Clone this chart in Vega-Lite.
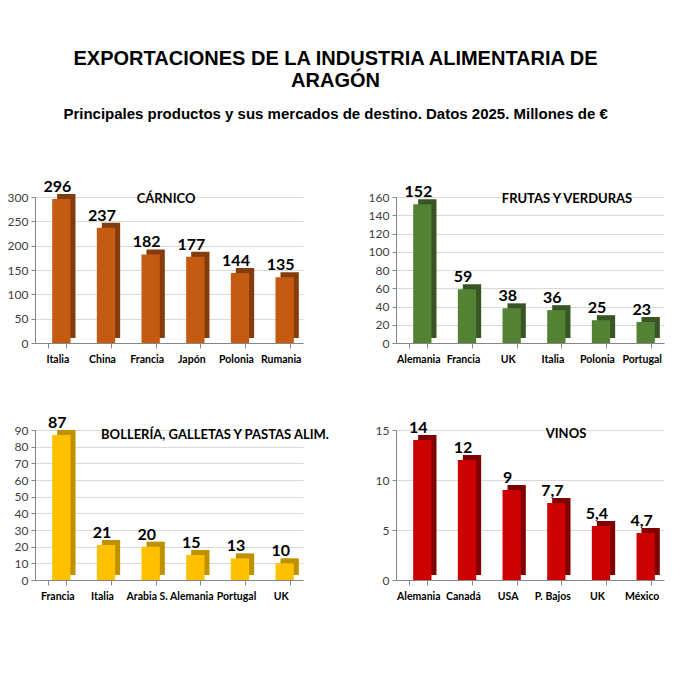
{
  "$schema": "https://vega.github.io/schema/vega-lite/v6.json",
  "background": "white",
  "padding": {"left": 7, "top": 48, "right": 5, "bottom": 5},
  "config": {
    "view": {"stroke": null},
    "locale": {"number": {"decimal": ",", "thousands": ".", "grouping": [3], "currency": ["", " €"]}},
    "axisY": {
      "grid": true, "gridColor": "#D9D9D9", "domainColor": "#868686", "tickColor": "#868686",
      "tickSize": 4, "labelFont": "Lato", "labelFontSize": 12, "labelColor": "#404040",
      "labelPadding": 3, "title": null
    },
    "axisX": {
      "grid": false, "domainColor": "#868686", "tickColor": "#868686", "tickSize": 5,
      "tickBand": "extent", "labelAngle": 0, "labelFont": "Lato", "labelFontSize": 10.5,
      "labelFontWeight": "bold", "labelColor": "#000000", "labelPadding": 6,
      "labelOverlap": false, "labelLimit": 0, "title": null
    },
    "scale": {"bandPaddingInner": 0.59, "bandPaddingOuter": 0.295},
    "text": {"font": "Lato", "fontSize": 16, "fontWeight": "bold", "color": "#000000", "dy": -12, "xOffset": 5}
  },
  "title": {
    "text": ["EXPORTACIONES DE LA INDUSTRIA  ALIMENTARIA DE", "ARAGÓN"],
    "subtitle": "Principales productos y sus mercados de destino. Datos 2025. Millones de €",
    "anchor": "middle",
    "font": "Liberation Sans", "fontSize": 20, "fontWeight": "bold", "color": "#000000", "lineHeight": 22,
    "subtitleFont": "Liberation Sans", "subtitleFontSize": 15, "subtitleFontWeight": "bold",
    "subtitleColor": "#000000", "subtitlePadding": 16,
    "offset": 57
  },
  "datasets": {
    "carnico": [
      {"pais": "Italia", "valor": 296},
      {"pais": "China", "valor": 237},
      {"pais": "Francia", "valor": 182},
      {"pais": "Japón", "valor": 177},
      {"pais": "Polonia", "valor": 144},
      {"pais": "Rumania", "valor": 135}
    ],
    "frutas": [
      {"pais": "Alemania", "valor": 152},
      {"pais": "Francia", "valor": 59},
      {"pais": "UK", "valor": 38},
      {"pais": "Italia", "valor": 36},
      {"pais": "Polonia", "valor": 25},
      {"pais": "Portugal", "valor": 23}
    ],
    "bolleria": [
      {"pais": "Francia", "valor": 87},
      {"pais": "Italia", "valor": 21},
      {"pais": "Arabia S.", "valor": 20},
      {"pais": "Alemania", "valor": 15},
      {"pais": "Portugal", "valor": 13},
      {"pais": "UK", "valor": 10}
    ],
    "vinos": [
      {"pais": "Alemania", "valor": 14},
      {"pais": "Canadá", "valor": 12},
      {"pais": "USA", "valor": 9},
      {"pais": "P. Bajos", "valor": 7.7},
      {"pais": "UK", "valor": 5.4},
      {"pais": "México", "valor": 4.7}
    ]
  },
  "spacing": 50,
  "vconcat": [
    {
      "bounds": "flush",
      "spacing": 93,
      "hconcat": [
        {
          "width": 268, "height": 146,
          "data": {"name": "carnico"},
          "title": {"text": "CÁRNICO", "font": "Lato", "fontSize": 13, "fontWeight": "bold", "color": "#000000", "baseline": "middle", "offset": -33, "dx": -3},
          "encoding": {
            "x": {"field": "pais", "type": "nominal", "sort": null},
            "y": {"field": "valor", "type": "quantitative", "scale": {"domain": [0, 300]}, "axis": {"values": [0, 50, 100, 150, 200, 250, 300]}}
          },
          "layer": [
            {"mark": {"type": "bar", "color": "#843C0C", "xOffset": 9, "yOffset": -5}},
            {"mark": {"type": "bar", "color": "#C55A11", "xOffset": 4}},
            {"mark": {"type": "text"}, "encoding": {"text": {"field": "valor", "type": "quantitative", "format": ".1~f"}}}
          ]
        },
        {
          "width": 268, "height": 146,
          "data": {"name": "frutas"},
          "title": {"text": "FRUTAS Y VERDURAS", "font": "Lato", "fontSize": 13, "fontWeight": "bold", "color": "#000000", "baseline": "middle", "offset": -28, "dx": 37},
          "encoding": {
            "x": {"field": "pais", "type": "nominal", "sort": null},
            "y": {"field": "valor", "type": "quantitative", "scale": {"domain": [0, 160]}, "axis": {"values": [0, 20, 40, 60, 80, 100, 120, 140, 160]}}
          },
          "layer": [
            {"mark": {"type": "bar", "color": "#375623", "xOffset": 9, "yOffset": -5}},
            {"mark": {"type": "bar", "color": "#548235", "xOffset": 4}},
            {"mark": {"type": "text"}, "encoding": {"text": {"field": "valor", "type": "quantitative", "format": ".1~f"}}}
          ]
        }
      ]
    },
    {
      "bounds": "flush",
      "spacing": 93,
      "hconcat": [
        {
          "width": 268, "height": 150,
          "data": {"name": "bolleria"},
          "title": {"text": "BOLLERÍA, GALLETAS Y PASTAS ALIM.", "font": "Lato", "fontSize": 13, "fontWeight": "bold", "color": "#000000", "baseline": "middle", "offset": -33, "dx": 46},
          "encoding": {
            "x": {"field": "pais", "type": "nominal", "sort": null},
            "y": {"field": "valor", "type": "quantitative", "scale": {"domain": [0, 90]}, "axis": {"values": [0, 10, 20, 30, 40, 50, 60, 70, 80, 90]}}
          },
          "layer": [
            {"mark": {"type": "bar", "color": "#BF9000", "xOffset": 9, "yOffset": -5}},
            {"mark": {"type": "bar", "color": "#FFC000", "xOffset": 4}},
            {"mark": {"type": "text"}, "encoding": {"text": {"field": "valor", "type": "quantitative", "format": ".1~f"}}}
          ]
        },
        {
          "width": 268, "height": 150,
          "data": {"name": "vinos"},
          "title": {"text": "VINOS", "font": "Lato", "fontSize": 13, "fontWeight": "bold", "color": "#000000", "baseline": "middle", "offset": -27, "dx": 36},
          "encoding": {
            "x": {"field": "pais", "type": "nominal", "sort": null},
            "y": {"field": "valor", "type": "quantitative", "scale": {"domain": [0, 15]}, "axis": {"values": [0, 5, 10, 15]}}
          },
          "layer": [
            {"mark": {"type": "bar", "color": "#800000", "xOffset": 9, "yOffset": -5}},
            {"mark": {"type": "bar", "color": "#CC0000", "xOffset": 4}},
            {"mark": {"type": "text"}, "encoding": {"text": {"field": "valor", "type": "quantitative", "format": ".1~f"}}}
          ]
        }
      ]
    }
  ]
}
